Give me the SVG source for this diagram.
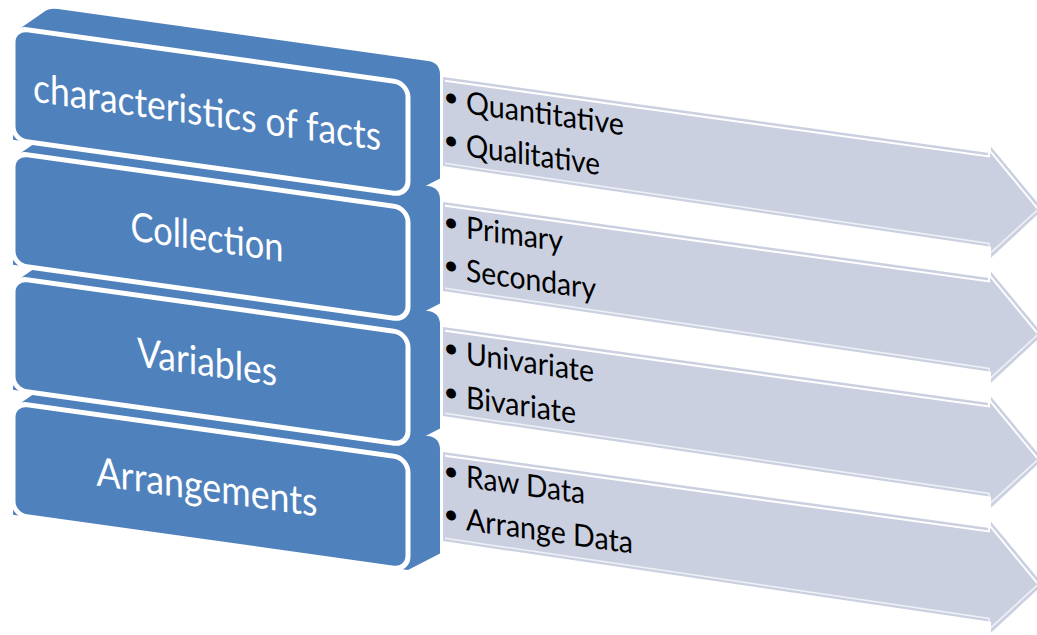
<svg xmlns="http://www.w3.org/2000/svg" width="1037" height="635" viewBox="0 0 1037 635">
  <style>
    .body { fill: #4F81BD; }
    .face { fill: #4F81BD; stroke: #FFFFFF; stroke-width: 5; }
    .label { font-family: Lato, Carlito, "Liberation Sans", sans-serif; font-size: 40px; fill: #FFFFFF; text-anchor: middle; }
    .arrow { fill: #CBD0E1; }
    .rim { fill: none; stroke: #FFFFFF; stroke-width: 2; stroke-linejoin: miter; }
    .rim-low { fill: none; stroke: #FFFFFF; stroke-opacity: 0.7; stroke-width: 1.5; }
    .item { font-family: Lato, Carlito, "Liberation Sans", sans-serif; font-size: 31px; fill: #000000; }
    .bullet { font-family: "DejaVu Sans", sans-serif; font-size: 34px; fill: #000000; text-anchor: middle; }
  </style>
  <defs>
    <!-- detail arrow, drawn in the sheared frame of row 1 -->
    <path id="arrow-shape" d="M443,15 L991,14.5 L991,8 L1043,63.5 L991,119 L991,108 L443,104 Z"/>
    <path id="arrow-rim" d="M445,18.5 L989,18 L989,11.2 L1040,65.8"/>
    <path id="arrow-rim-low" d="M445,101 L989,105 L989,116 L1040.5,61.5"/>
    <!-- extruded block: top and side faces, then the front face -->
    <path id="block-body" d="M16,29 L46,4 Q50,1 58,1 L428,1 Q440,1 440,13 L440,117 L408,138 L13,138 Z"/>
    <rect id="block-face" x="13" y="26" width="395" height="112" rx="14"/>
  </defs>

  <!-- the whole chart is sheared to give the receding 3D look -->
  <g transform="matrix(1 0.14 0 1 0 0)">

    <g id="details">
      <g id="detail-1">
        <use href="#arrow-shape" class="arrow"/>
        <use href="#arrow-rim" class="rim"/>
        <use href="#arrow-rim-low" class="rim-low"/>
        <text class="bullet" x="451" y="48">•</text>
        <text class="item" x="466" y="48" textLength="158" lengthAdjust="spacingAndGlyphs">Quantitative</text>
        <text class="bullet" x="451" y="91">•</text>
        <text class="item" x="466" y="91" textLength="134" lengthAdjust="spacingAndGlyphs">Qualitative</text>
      </g>
      <g id="detail-2" transform="translate(0 125)">
        <use href="#arrow-shape" class="arrow"/>
        <use href="#arrow-rim" class="rim"/>
        <use href="#arrow-rim-low" class="rim-low"/>
        <text class="bullet" x="451" y="48">•</text>
        <text class="item" x="466" y="48" textLength="97" lengthAdjust="spacingAndGlyphs">Primary</text>
        <text class="bullet" x="451" y="91">•</text>
        <text class="item" x="466" y="91" textLength="130" lengthAdjust="spacingAndGlyphs">Secondary</text>
      </g>
      <g id="detail-3" transform="translate(0 250)">
        <use href="#arrow-shape" class="arrow"/>
        <use href="#arrow-rim" class="rim"/>
        <use href="#arrow-rim-low" class="rim-low"/>
        <text class="bullet" x="451" y="49">•</text>
        <text class="item" x="466" y="49" textLength="128" lengthAdjust="spacingAndGlyphs">Univariate</text>
        <text class="bullet" x="451" y="93">•</text>
        <text class="item" x="466" y="93" textLength="110" lengthAdjust="spacingAndGlyphs">Bivariate</text>
      </g>
      <g id="detail-4" transform="translate(0 375)">
        <use href="#arrow-shape" class="arrow"/>
        <use href="#arrow-rim" class="rim"/>
        <use href="#arrow-rim-low" class="rim-low"/>
        <text class="bullet" x="451" y="47">•</text>
        <text class="item" x="466" y="47" textLength="119" lengthAdjust="spacingAndGlyphs">Raw Data</text>
        <text class="bullet" x="451" y="90">•</text>
        <text class="item" x="466" y="90" textLength="167" lengthAdjust="spacingAndGlyphs">Arrange Data</text>
      </g>
    </g>

    <!-- stages, drawn bottom row first so each block overlaps the one below -->
    <g id="stages">
      <g id="stage-arrangements" transform="translate(0 375)">
        <use href="#block-body" class="body"/>
        <use href="#block-face" class="face"/>
        <text class="label" x="207" y="97" textLength="221" lengthAdjust="spacingAndGlyphs">Arrangements</text>
      </g>
      <g id="stage-variables" transform="translate(0 250)">
        <use href="#block-body" class="body"/>
        <use href="#block-face" class="face"/>
        <text class="label" x="207" y="97" textLength="140" lengthAdjust="spacingAndGlyphs">Variables</text>
      </g>
      <g id="stage-collection" transform="translate(0 125)">
        <use href="#block-body" class="body"/>
        <use href="#block-face" class="face"/>
        <text class="label" x="207" y="97" textLength="153" lengthAdjust="spacingAndGlyphs">Collection</text>
      </g>
      <g id="stage-characteristics">
        <use href="#block-body" class="body"/>
        <use href="#block-face" class="face"/>
        <text class="label" x="207" y="97" textLength="348" lengthAdjust="spacingAndGlyphs">characteristics of facts</text>
      </g>
    </g>
  </g>
</svg>
